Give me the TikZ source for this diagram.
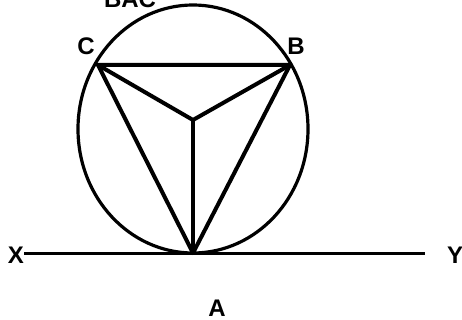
\documentclass[tikz,border=0pt]{standalone}
\usepackage{fontspec}
\setmainfont{Liberation Sans}
\begin{document}
\begin{tikzpicture}[x=1pt,y=-1pt,
  lbl/.style={font=\bfseries\fontsize{24}{24}\selectfont, inner sep=0pt},
  thick line/.style={line width=4pt, line join=round, line cap=round},
  rim/.style={line width=3.2pt}]
\useasboundingbox (0,0) rectangle (462,320);
\fill[white] (0,0) rectangle (462,320);
\begin{scope}
\clip (0,0) rectangle (462,320);
\node[lbl, anchor=base] (top) at (130,8) {BAC};
\end{scope}
% points
\coordinate (A) at (193,253);
\coordinate (B) at (290,65);
\coordinate (C) at (98,65);
\coordinate (O) at (193,120);
\coordinate (X) at (24,253);
\coordinate (Y) at (425,253);
% circle
\draw[rim] (193,129) ellipse [x radius=115, y radius=124];
% tangent line
\draw[line width=3pt] (X) -- (Y);
% triangle and centre
\draw[thick line] (A) -- (B) -- (C) -- cycle;
\draw[thick line] (O) -- (A);
\draw[thick line] (O) -- (B);
\draw[thick line] (O) -- (C);
% labels
\node[lbl] (lC) at (86,46) {C};
\node[lbl] (lB) at (296,46) {B};
\node[lbl] (lX) at (16,255) {X};
\node[lbl] (lY) at (455,255) {Y};
\node[lbl] (lA) at (217,308) {A};
\end{tikzpicture}
\end{document}
